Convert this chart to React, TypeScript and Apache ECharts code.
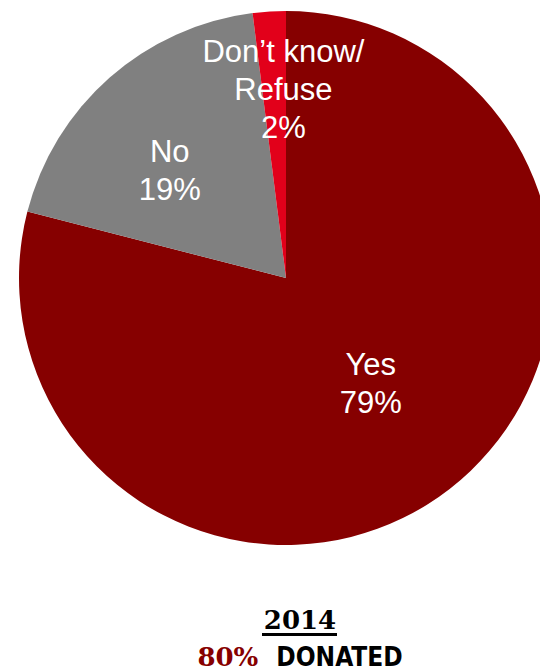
import React, { useEffect, useRef } from "react";
import * as echarts from "echarts";

const categories = ["Yes", "No", "Don\u2019t know/\nRefuse"];
const values = [79, 19, 2];
const colors = ["#860000", "#808080", "#E2001A"];
const yearLabel = "2014";
const donatedPct = "80%";
const donatedText = "DONATED";

const labelShift = [
  { dx: 1, dy: -2 },
  { dx: -26, dy: -5 },
  { dx: 6, dy: -52 },
];

export default function App() {
  const ref = useRef<HTMLDivElement>(null);
  useEffect(() => {
    if (!ref.current) return;
    const chart = echarts.init(ref.current, null, { renderer: "svg" });
    chart.setOption({
      animation: false,
      backgroundColor: "#ffffff",
      series: [
        {
          type: "pie",
          center: [286, 278],
          radius: [0, 267],
          startAngle: 90,
          clockwise: true,
          avoidLabelOverlap: false,
          label: {
            show: true,
            position: "inside",
            color: "#ffffff",
            fontFamily: "Liberation Sans, Arial, sans-serif",
            fontSize: 31,
            lineHeight: 38,
            formatter: (p: any) => `${p.name}\n${p.value}%`,
          },
          labelLine: { show: false },
          labelLayout: (params: any) => labelShift[params.dataIndex],
          emphasis: { disabled: true },
          data: categories.map((c, i) => ({
            name: c,
            value: values[i],
            itemStyle: { color: colors[i] },
          })),
        },
      ],
      graphic: [
        {
          type: "text",
          x: 300,
          y: 620,
          style: {
            text: yearLabel,
            fontFamily: "DejaVu Serif, serif",
            fontWeight: "bold",
            fontSize: 26,
            fill: "#000000",
            align: "center",
            verticalAlign: "middle",
          },
        },
        {
          type: "rect",
          shape: { x: 262, y: 633, width: 75, height: 3 },
          style: { fill: "#000000" },
        },
        {
          type: "text",
          x: 300,
          y: 657,
          style: {
            text: `{a|${donatedPct}}{s| }{b|${donatedText}}`,
            align: "center",
            verticalAlign: "middle",
            rich: {
              a: {
                fontFamily: "DejaVu Serif, serif",
                fontWeight: "bold",
                fontSize: 26,
                lineHeight: 22,
                fill: "#860000",
                color: "#860000",
              },
              s: {
                fontSize: 26,
                lineHeight: 22,
                width: 18,
              },
              b: {
                fontFamily: "DejaVu Sans Condensed, DejaVu Sans, sans-serif",
                fontWeight: "bold",
                fontSize: 26,
                lineHeight: 22,
                color: "#000000",
                fill: "#000000",
              },
            },
          },
        },
      ],
    });
    return () => chart.dispose();
  }, []);
  return (
    <div
      ref={ref}
      style={{ position: "fixed", left: 0, top: 0, width: 540, height: 671 }}
    />
  );
}
